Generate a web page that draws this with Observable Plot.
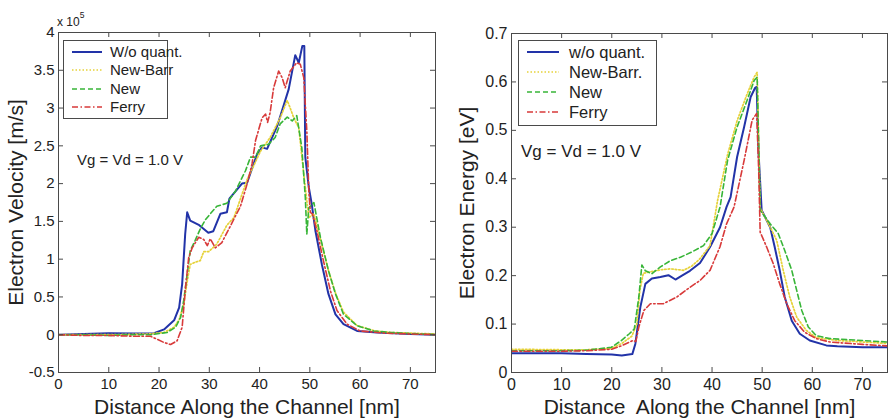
<!DOCTYPE html>
<html><head><meta charset="utf-8">
<script src="https://cdn.jsdelivr.net/npm/d3@7"></script>
<script src="https://cdn.jsdelivr.net/npm/@observablehq/plot@0.6"></script>
<style>
body{margin:0;background:#fff;}
#wrap{position:relative;width:888px;height:420px;overflow:hidden;font-family:"Liberation Sans",Arial,sans-serif;background:#fff;}
.panel{position:absolute;top:0;}
#overlay{position:absolute;top:0;left:0;pointer-events:none;}
</style></head><body><div id="wrap"></div>
<script>
// ---------- data ----------
const namesVel = ["W/o quant.", "New-Barr", "New", "Ferry"];
const namesEn = ["w/o quant.", "New-Barr.", "New", "Ferry"];
const xTicks = [0, 10, 20, 30, 40, 50, 60, 70];
const velTicks = [-0.5, 0, 0.5, 1, 1.5, 2, 2.5, 3, 3.5, 4];
const enTicks = [0, 0.1, 0.2, 0.3, 0.4, 0.5, 0.6, 0.7];
const noteText = "Vg = Vd = 1.0 V";
const xLabelVel = "Distance Along the Channel [nm]";
const xLabelEn = "Distance  Along the Channel [nm]";
const yLabelVel = "Electron Velocity [m/s]";
const yLabelEn = "Electron Energy [eV]";

// velocity (x 10^5 m/s) vs distance (nm)
const velWoQuant = [[0,0],[5,0.01],[10,0.02],[15,0.015],[19,0.02],[21,0.07],[23,0.19],[24,0.36],[24.6,0.67],[25.2,1.33],[25.6,1.62],[26.2,1.51],[28,1.45],[29.8,1.35],[30.8,1.37],[32.2,1.6],[33.5,1.62],[34,1.8],[36.5,2.0],[37.5,2.01],[39.5,2.39],[40.5,2.48],[41.5,2.46],[43.5,2.76],[45.8,3.25],[47.1,3.7],[47.8,3.6],[48.5,3.82],[48.9,3.82],[49.1,2.35],[49.8,1.95],[50.4,1.72],[51.1,1.38],[52.4,0.93],[53.7,0.54],[55.1,0.27],[56.7,0.14],[59.4,0.05],[63.4,0.03],[70,0.01],[75,0]];
const velNewBarr = [[0,0],[10,0.0],[18,0.01],[21,0.03],[23,0.1],[24,0.2],[24.9,0.4],[25.6,0.7],[26.2,0.93],[27.2,0.96],[28.2,0.98],[28.9,1.1],[29.9,1.1],[31.5,1.2],[33.5,1.45],[34.9,1.55],[37.5,2.05],[40.2,2.43],[42.1,2.61],[44.1,2.87],[45.5,3.1],[46.1,3.0],[46.8,2.87],[47.8,2.74],[48.8,2.12],[49.8,1.55],[50.8,1.6],[52.1,1.27],[53.7,0.85],[55.1,0.55],[56.7,0.3],[59.4,0.12],[63,0.05],[66,0.03],[75,0.01]];
const velNew = [[0,0],[5,0],[10,-0.01],[15,0],[18.3,0],[21.6,0.03],[23.3,0.1],[24.3,0.23],[24.9,0.45],[25.6,0.8],[26.2,1.11],[27.2,1.25],[28.2,1.4],[29.2,1.52],[30.2,1.6],[31.5,1.7],[33.5,1.74],[35.2,1.9],[37.2,2.17],[38.2,2.35],[39.2,2.35],[40.2,2.5],[41.8,2.52],[43.1,2.61],[44.1,2.79],[45.5,2.88],[46.5,2.83],[47.4,2.9],[48.4,2.48],[49.1,1.82],[49.4,1.33],[49.8,1.68],[50.8,1.75],[52.1,1.29],[53.7,0.85],[55.1,0.54],[56.7,0.27],[59.4,0.12],[62.7,0.05],[66,0.03],[75,0]];
const velFerry = [[0,0],[5,-0.01],[10,-0.01],[15,-0.02],[18.3,-0.02],[20.9,-0.1],[22.3,-0.13],[23.6,-0.08],[24.6,0.1],[25.2,0.58],[25.9,1.02],[26.6,1.15],[27.9,1.29],[28.9,1.26],[29.6,1.18],[30.2,1.27],[31.2,1.15],[32.5,1.22],[34.2,1.44],[36.2,1.7],[37.5,1.99],[38.5,2.26],[39.2,2.57],[40.5,2.87],[41.2,2.92],[41.6,2.81],[42.1,2.94],[42.8,3.27],[43.8,3.49],[44.5,3.4],[45.1,3.27],[46.1,3.49],[47.4,3.6],[48.1,3.58],[48.8,3.4],[49.4,2.7],[49.8,1.9],[50.1,1.62],[50.5,1.6],[51.4,1.38],[52.7,0.98],[54.1,0.58],[55.4,0.32],[57.4,0.14],[60,0.05],[65,0.02],[70,0.01],[75,0]];

// energy (eV) vs distance (nm)
const enWoQuant = [[0,0.04],[10,0.04],[15,0.038],[20,0.037],[22,0.035],[24.1,0.038],[24.7,0.059],[25.7,0.135],[26.7,0.183],[28,0.194],[29.7,0.197],[31.3,0.201],[32.7,0.192],[34,0.2],[35.6,0.21],[37.6,0.226],[39.6,0.259],[41.6,0.3],[42.9,0.342],[43.7,0.362],[45,0.445],[46.4,0.507],[47.7,0.569],[48.6,0.588],[48.9,0.59],[49.3,0.45],[49.9,0.335],[51.6,0.3],[52.5,0.259],[53.5,0.211],[54.5,0.156],[55.9,0.107],[57.5,0.08],[59.5,0.066],[62.8,0.056],[65,0.054],[70,0.052],[75,0.052]];
const enNewBarr = [[0,0.048],[10,0.047],[15,0.047],[20,0.05],[22,0.06],[24,0.075],[25,0.1],[25.6,0.17],[26.3,0.205],[27.8,0.208],[29.7,0.212],[31.7,0.214],[34.3,0.211],[36,0.22],[37.6,0.235],[39.6,0.262],[41.1,0.355],[43.1,0.45],[45,0.52],[47,0.575],[48.4,0.61],[49,0.62],[49.6,0.34],[51.6,0.3],[52.9,0.273],[54.2,0.211],[55.5,0.156],[56.9,0.114],[58.8,0.087],[60.8,0.072],[65,0.066],[70,0.063],[75,0.06]];
const enNew = [[0,0.045],[10,0.045],[15,0.046],[19.9,0.052],[21.9,0.066],[23.5,0.08],[24.5,0.09],[25.4,0.156],[26,0.222],[26.7,0.21],[28,0.204],[29.7,0.218],[31.7,0.231],[33.7,0.238],[36,0.249],[38.3,0.262],[40,0.287],[41.6,0.342],[43.1,0.438],[45,0.507],[47,0.562],[48.4,0.603],[49,0.61],[49.6,0.335],[51.6,0.307],[53.2,0.287],[54.5,0.252],[55.9,0.211],[56.9,0.169],[57.9,0.128],[59.2,0.094],[60.8,0.076],[63.5,0.07],[70,0.066],[75,0.063]];
const enFerry = [[0,0.044],[10,0.044],[15,0.045],[20,0.048],[21.9,0.055],[24.2,0.066],[24.8,0.064],[25.4,0.094],[26.4,0.128],[27.7,0.142],[30.3,0.142],[33,0.156],[35.6,0.176],[37.6,0.19],[39.6,0.211],[41.6,0.26],[42.9,0.307],[44.4,0.342],[46.4,0.438],[48,0.521],[48.9,0.535],[49.3,0.42],[49.6,0.29],[50.9,0.259],[52.2,0.225],[53.5,0.183],[54.9,0.142],[56.5,0.107],[58.5,0.083],[60.8,0.07],[63.5,0.063],[70,0.058],[75,0.055]];

// ---------- styles ----------
const styles = [
  {stroke: "#2233a8", strokeWidth: 2, dash: null},
  {stroke: "#e6d23a", strokeWidth: 1.7, dash: "1.5,2"},
  {stroke: "#38b538", strokeWidth: 1.6, dash: "5,3"},
  {stroke: "#d83a3a", strokeWidth: 1.6, dash: "6,2.5,1.5,2.5"}
];
const FONT = "Liberation Sans, Arial, sans-serif";
const INK = "#222";
const FRAME = "#4a4a4a";

function panel({series, yDomain, yTicks, xLabel, yLabel, width, ml, mr, mt, mb, tickFont, yLabelDx}) {
  const H = 420;
  const innerW = width - ml - mr, innerH = H - mt - mb;
  const marks = [];
  series.forEach((s, i) => {
    marks.push(Plot.line(s, {
      x: d => d[0], y: d => d[1],
      stroke: styles[i].stroke, strokeWidth: styles[i].strokeWidth,
      strokeDasharray: styles[i].dash, strokeLinejoin: "round", clip: true
    }));
  });
  marks.push(
    Plot.tickX(xTicks, {x: d => d, insetTop: innerH - 5, stroke: FRAME}),
    Plot.tickX(xTicks, {x: d => d, insetBottom: innerH - 5, stroke: FRAME}),
    Plot.tickY(yTicks, {y: d => d, insetRight: innerW - 5, stroke: FRAME}),
    Plot.tickY(yTicks, {y: d => d, insetLeft: innerW - 5, stroke: FRAME}),
    Plot.frame({stroke: FRAME}),
    Plot.axisX(xTicks, {tickSize: 0, tickPadding: 6, fontSize: tickFont, fill: INK, tickFormat: d => String(d), label: null}),
    Plot.axisY(yTicks, {tickSize: 0, tickPadding: 4, fontSize: tickFont, fill: INK, tickFormat: d => String(d), label: null}),
    Plot.text([xLabel], {text: d => d, frameAnchor: "bottom", lineAnchor: "middle", textAnchor: "middle", dy: 35, fontSize: 21, fill: INK}),
    Plot.text([yLabel], {text: d => d, frameAnchor: "left", lineAnchor: "middle", textAnchor: "middle", rotate: -90, dx: yLabelDx, fontSize: 21, fill: INK})
  );
  return Plot.plot({
    width, height: H,
    marginLeft: ml, marginRight: mr, marginTop: mt, marginBottom: mb,
    style: {fontFamily: FONT, background: "white", overflow: "visible"},
    x: {domain: [0, 75], axis: null},
    y: {domain: yDomain, axis: null},
    marks
  });
}

const wrap = document.getElementById("wrap");
const left = panel({
  series: [velWoQuant, velNewBarr, velNew, velFerry],
  yDomain: [-0.5, 4], yTicks: velTicks, xLabel: xLabelVel, yLabel: yLabelVel,
  width: 444, ml: 58, mr: 9, mt: 32, mb: 48, tickFont: 15, yLabelDx: -42
});
left.classList.add("panel"); left.style.left = "0px";
wrap.appendChild(left);

const right = panel({
  series: [enWoQuant, enNewBarr, enNew, enFerry],
  yDomain: [0, 0.7], yTicks: enTicks, xLabel: xLabelEn, yLabel: yLabelEn,
  width: 444, ml: 67, mr: 1, mt: 33, mb: 48, tickFont: 16, yLabelDx: -44
});
right.classList.add("panel"); right.style.left = "444px";
wrap.appendChild(right);

// ---------- legends / annotations overlay ----------
const svg = d3.select(wrap).append("svg").attr("id", "overlay")
  .attr("width", 888).attr("height", 420)
  .style("font-family", FONT);

function legend(g, {x, y, w, h, rows, lineX1, lineX2, textX, names, fontSize}) {
  g.append("rect").attr("x", x).attr("y", y).attr("width", w).attr("height", h)
    .attr("fill", "white").attr("stroke", FRAME).attr("stroke-width", 1);
  names.forEach((n, i) => {
    const s = styles[i];
    g.append("line").attr("x1", lineX1).attr("x2", lineX2).attr("y1", rows[i]).attr("y2", rows[i])
      .attr("stroke", s.stroke).attr("stroke-width", s.strokeWidth)
      .attr("stroke-dasharray", s.dash);
    g.append("text").attr("x", textX).attr("y", rows[i]).attr("dy", "0.35em")
      .attr("font-size", fontSize).attr("fill", INK).text(n);
  });
}
legend(svg.append("g"), {x: 63.5, y: 40.5, w: 104, h: 78, rows: [52, 70, 89, 107],
  lineX1: 72, lineX2: 102, textX: 110, names: namesVel, fontSize: 15});
legend(svg.append("g"), {x: 518.5, y: 40.5, w: 138, h: 85, rows: [52, 72, 92, 112],
  lineX1: 527, lineX2: 559, textX: 569, names: namesEn, fontSize: 16.5});

svg.append("text").attr("x", 77).attr("y", 165).attr("font-size", 15).attr("fill", INK).text(noteText);
svg.append("text").attr("x", 521).attr("y", 157).attr("font-size", 17).attr("fill", INK).text(noteText);

const sci = svg.append("text").attr("x", 57).attr("y", 26).attr("font-size", 12).attr("fill", INK);
sci.append("tspan").text("x 10");
sci.append("tspan").attr("dy", -8).attr("font-size", 8.5).text("5");
</script></body></html>
